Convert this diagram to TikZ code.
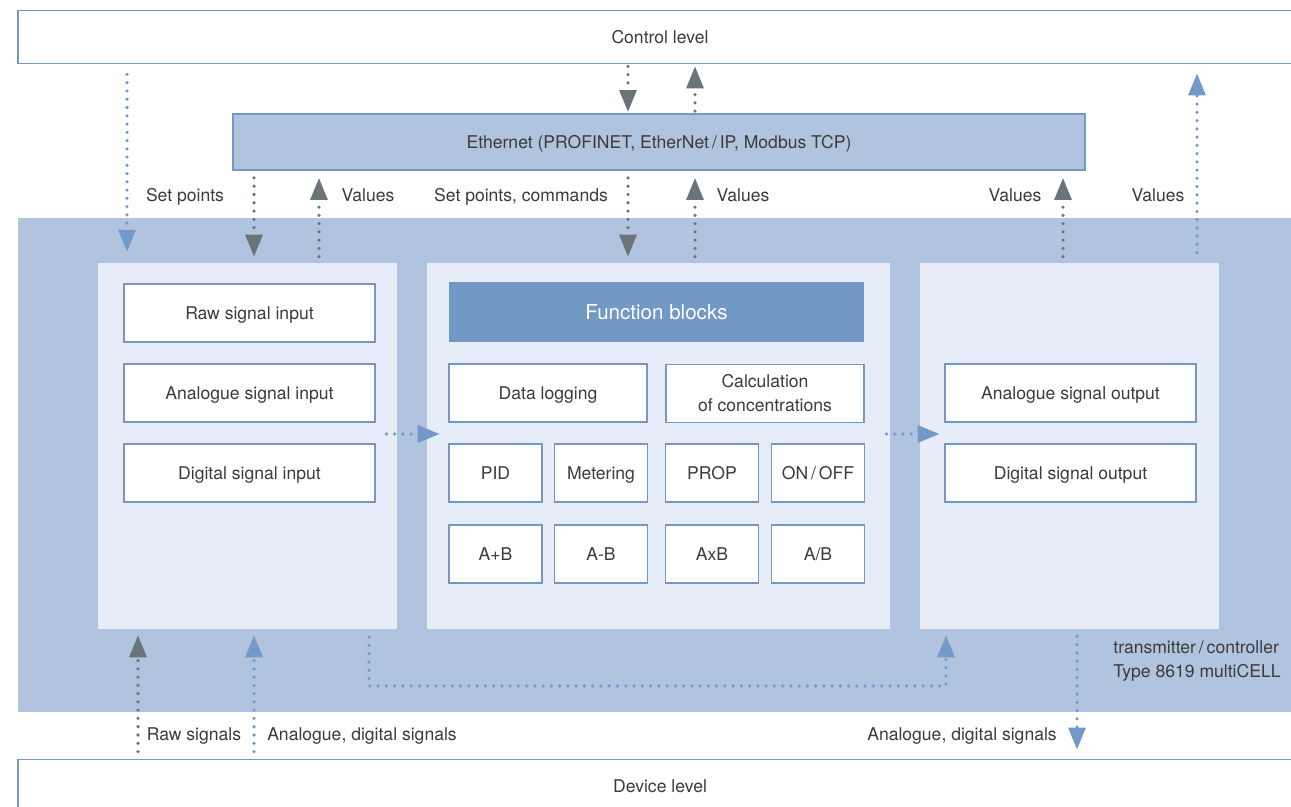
\documentclass[tikz,border=0pt]{standalone}
\usepackage{fontspec}
\setmainfont{TeX Gyre Heros}
\usetikzlibrary{arrows.meta}
\definecolor{edgeblue}{HTML}{7398C6}
\definecolor{panelblue}{HTML}{B0C4DF}
\definecolor{innerblue}{HTML}{E6EDF8}
\definecolor{fbblue}{HTML}{7298C5}
\definecolor{arrgray}{HTML}{6A7479}
\definecolor{arrblue}{HTML}{7399C8}
\definecolor{txtgray}{HTML}{3B3B3B}
\tikzset{
	capstyle/.style={text height=7.2pt,text depth=0pt},
	levelstyle/.style={rectangle,draw=edgeblue,line width=1.1pt,fill=white,inner sep=0pt,capstyle,minimum width=25.68cm,minimum height=1.06cm},
	ethstyle/.style={rectangle,draw=edgeblue,line width=1.1pt,fill=panelblue,inner sep=0pt,capstyle,minimum width=17.04cm,minimum height=1.12cm},
	panelstyle/.style={rectangle,fill=innerblue,inner sep=0pt,minimum width=5.98cm,minimum height=7.32cm},
	boxstyle/.style={rectangle,draw=edgeblue,line width=1pt,fill=white,inner sep=0pt,minimum width=5.02cm,minimum height=1.16cm,align=center},
	sigstyle/.style={boxstyle,capstyle},
	fbstyle/.style={rectangle,draw=edgeblue,line width=0.6pt,fill=fbblue,inner sep=0pt,text=white,font=\fontsize{11.7}{14}\selectfont,text height=8.4pt,text depth=0pt,minimum width=8.3cm,minimum height=1.16cm},
	widestyle/.style={sigstyle,minimum width=3.96cm},
	smallstyle/.style={sigstyle,minimum width=1.86cm},
	labelstyle/.style={inner sep=0pt,capstyle},
	graydot/.style={draw=arrgray,line width=2pt,line cap=round,dash pattern=on 0pt off 4.7pt,-{Triangle[width=9.6pt,length=12.5pt]}},
	bluedot/.style={graydot,draw=arrblue}
}

\begin{document}
\begin{tikzpicture}[x=0.02cm,y=-0.02cm,font=\fontsize{10}{13.6}\selectfont,text=txtgray]
		\useasboundingbox (0,0) rectangle (1291,807);
		\clip (0,0) rectangle (1291,807);
		\node[levelstyle] (ctrl) at (660,37) {Control level};
		\node[ethstyle] (eth) at (659,142) {Ethernet (PROFINET, EtherNet\,/\,IP, Modbus TCP)};
		\fill[panelblue] (18,218) rectangle (1302,712);
		\node[levelstyle] (dev) at (660,786) {Device level};
		\node[panelstyle] (lpanel) at (247.5,446) {};
		\node[panelstyle,minimum width=9.26cm] (mpanel) at (658.5,446) {};
		\node[panelstyle] (rpanel) at (1069.5,446) {};
		\node[sigstyle] (raw) at (249.5,313) {Raw signal input};
		\node[sigstyle] (ain) at (249.5,393) {Analogue signal input};
		\node[sigstyle] (din) at (249.5,473) {Digital signal input};
		\node[fbstyle] (fb) at (656.5,312) {Function blocks};
		\node[sigstyle,minimum width=3.96cm] (log) at (548,393) {Data logging};
		\node[boxstyle,minimum width=3.96cm] (calc) at (765,393.5) {Calculation\\of concentrations};
		\node[smallstyle] (pid) at (495.5,473) {PID};
		\node[smallstyle] (meter) at (601,473) {Metering};
		\node[smallstyle] (prop) at (712,473) {PROP};
		\node[smallstyle] (onoff) at (818,473) {ON\,/\,OFF};
		\node[smallstyle] (apb) at (495.5,554) {A+B};
		\node[smallstyle] (amb) at (601,554) {A-B};
		\node[smallstyle] (axb) at (712,554) {AxB};
		\node[smallstyle] (adb) at (818,554) {A/B};
		\node[sigstyle] (aout) at (1070.5,393) {Analogue signal output};
		\node[sigstyle] (dout) at (1070.5,473) {Digital signal output};
		\node[labelstyle] (setp) at (185,195) {Set points};
		\node[labelstyle] (lval) at (368,195) {Values};
		\node[labelstyle] (setc) at (521,195) {Set points, commands};
		\node[labelstyle] (mval) at (743,195) {Values};
		\node[labelstyle] (rval) at (1015,195) {Values};
		\node[labelstyle] (oval) at (1158,195) {Values};
		\node[labelstyle] (rawsig) at (194,734) {Raw signals};
		\node[labelstyle] (insig) at (362,734) {Analogue, digital signals};
		\node[labelstyle] (outsig) at (962,734) {Analogue, digital signals};
		\node[inner sep=0pt,anchor=west,align=left] (type) at (1113,661) {transmitter\,/\,controller\\Type 8619 multiCELL};
		\coordinate (xa) at (127,0);
		\coordinate (xb) at (254,0);
		\coordinate (xc) at (319,0);
		\coordinate (xd) at (628,0);
		\coordinate (xe) at (695,0);
		\coordinate (xf) at (1063,0);
		\coordinate (xg) at (1197,0);
		\coordinate (xh) at (138,0);
		\coordinate (xi) at (1077,0);
		\coordinate (ymid) at (0,434);
		\coordinate (lbend) at (369,686);
		\coordinate (rbend) at (946,686);
		\draw[bluedot,shorten <=5.7pt,shorten >=6.2pt] (ctrl.south -| xa) -- (lpanel.north -| xa);
		\draw[graydot,shorten <=4pt,shorten >=3.4pt] (eth.south -| xb) -- (lpanel.north -| xb);
		\draw[graydot,shorten <=3.4pt,shorten >=4pt] (lpanel.north -| xc) -- (eth.south -| xc);
		\draw[graydot,shorten <=1.1pt,shorten >=0.6pt] (ctrl.south -| xd) -- (eth.north -| xd);
		\draw[graydot,shorten <=1.1pt,shorten >=1.1pt] (eth.north -| xe) -- (ctrl.south -| xe);
		\draw[graydot,shorten <=4pt,shorten >=3.4pt] (eth.south -| xd) -- (mpanel.north -| xd);
		\draw[graydot,shorten <=3.4pt,shorten >=4pt] (mpanel.north -| xe) -- (eth.south -| xe);
		\draw[graydot,shorten <=3.4pt,shorten >=4pt] (rpanel.north -| xf) -- (eth.south -| xf);
		\draw[bluedot,shorten <=5.7pt,shorten >=5.1pt] (rpanel.north -| xg) -- (ctrl.south -| xg);
		\draw[bluedot,shorten <=-6.2pt,shorten >=-7.4pt] (lpanel.east |- ymid) -- (mpanel.west |- ymid);
		\draw[bluedot,shorten <=-2.3pt,shorten >=-11.3pt] (mpanel.east |- ymid) -- (rpanel.west |- ymid);
		\draw[graydot,shorten <=4pt,shorten >=3.4pt] (dev.north -| xh) -- (lpanel.south -| xh);
		\draw[bluedot,shorten <=4pt,shorten >=3.4pt] (dev.north -| xb) -- (lpanel.south -| xb);
		\draw[bluedot,shorten <=4.5pt,shorten >=3.4pt] (lpanel.south -| lbend) -- (lbend) -- (rbend) -- (rpanel.south -| rbend);
		\draw[bluedot,shorten <=4pt,shorten >=5.1pt] (rpanel.south -| xi) -- (dev.north -| xi);
		\end{tikzpicture}
\end{document}
